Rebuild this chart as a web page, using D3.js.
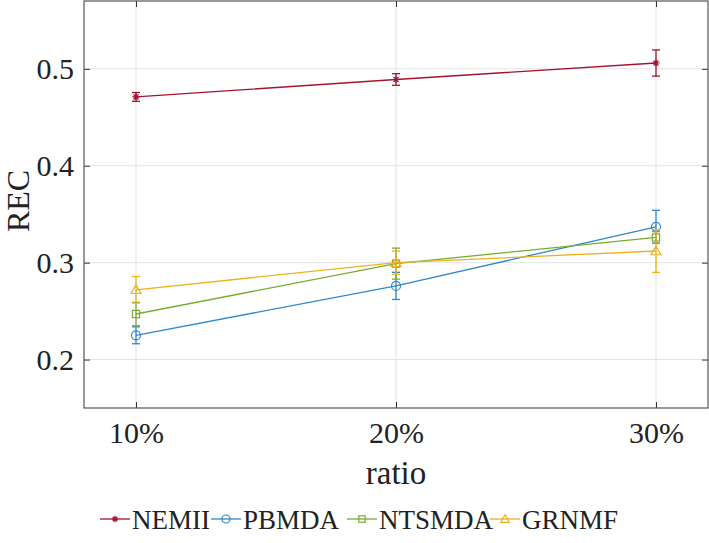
<!DOCTYPE html>
<html><head><meta charset="utf-8">
<script src="https://cdn.jsdelivr.net/npm/d3@7"></script>
<style>body{margin:0;background:#fff;} svg{display:block;} text{font-family:"Liberation Serif","Times New Roman",serif;}</style>
</head><body>
<svg id="chart" width="709" height="543"></svg>
<script>
const ratios = [10, 20, 30];
const xTickLabels = ["10%", "20%", "30%"];
const yTicks = [0.2, 0.3, 0.4, 0.5];
const seriesNames = ["NEMII", "PBMDA", "NTSMDA", "GRNMF"];
const seriesColors = ["#A2142F", "#2f88c9", "#77AC30", "#EDB120"];
const seriesMarkers = ["star", "circle", "square", "triangle"];
const valNEMII = [0.471, 0.489, 0.506];
const errNEMII = [0.0045, 0.006, 0.0135];
const valPBMDA = [0.225, 0.276, 0.337];
const errPBMDA = [0.0087, 0.014, 0.017];
const valNTSMDA = [0.247, 0.299, 0.326];
const errNTSMDA = [0.012, 0.016, 0.006];
const valGRNMF = [0.272, 0.300, 0.312];
const errGRNMF = [0.0137, 0.012, 0.022];

const values = [valNEMII, valPBMDA, valNTSMDA, valGRNMF];
const errors = [errNEMII, errPBMDA, errNTSMDA, errGRNMF];

const svg = d3.select("#chart");
const L = 84, R = 708, T = 1, B = 408;
const x = d3.scaleLinear().domain([8, 32]).range([L, R]);
const y = d3.scaleLinear().domain([0.15, 0.57]).range([B, T]);
const font = "Liberation Serif";

// grid
const g = svg.append("g");
g.selectAll(".vg").data(ratios).enter().append("line")
  .attr("x1", d => x(d)).attr("x2", d => x(d)).attr("y1", T).attr("y2", B)
  .attr("stroke", "#e3e3e3").attr("stroke-width", 1);
g.selectAll(".hg").data(yTicks).enter().append("line")
  .attr("x1", L).attr("x2", R).attr("y1", d => y(d)).attr("y2", d => y(d))
  .attr("stroke", "#e3e3e3").attr("stroke-width", 1);

// axes with inward ticks
const xAxis = d3.axisBottom(x).tickValues(ratios).tickFormat((d, i) => xTickLabels[i]).tickSize(-6).tickSizeOuter(0).tickPadding(14);
const yAxis = d3.axisLeft(y).tickValues(yTicks).tickFormat(d3.format(".1f")).tickSize(-6).tickSizeOuter(0).tickPadding(10);
const xa = svg.append("g").attr("transform", `translate(0,${B})`).call(xAxis);
const ya = svg.append("g").attr("transform", `translate(${L},0)`).call(yAxis);
const xt = svg.append("g").attr("transform", `translate(0,${T})`).call(d3.axisTop(x).tickValues(ratios).tickFormat("").tickSize(-6).tickSizeOuter(0));
const yr = svg.append("g").attr("transform", `translate(${R},0)`).call(d3.axisRight(y).tickValues(yTicks).tickFormat("").tickSize(-6).tickSizeOuter(0));
[xa, ya, xt, yr].forEach(a => {
  a.attr("font-family", font).attr("font-size", 30);
  a.select(".domain").remove();
  a.selectAll(".tick line").attr("stroke", "#333").attr("stroke-width", 1);
  a.selectAll("text").attr("fill", "#222");
});
svg.append("rect").attr("x", L).attr("y", T).attr("width", R - L).attr("height", B - T)
  .attr("fill", "none").attr("stroke", "#555").attr("stroke-width", 1.2);

// labels
svg.append("text").attr("x", (L + R) / 2).attr("y", 484).attr("text-anchor", "middle")
  .attr("font-family", font).attr("font-size", 33).attr("fill", "#222").text("ratio");
svg.append("text").attr("transform", `translate(29,201) rotate(-90)`).attr("text-anchor", "middle")
  .attr("font-family", font).attr("font-size", 32).attr("fill", "#222").text("REC");

function drawMarker(sel, type, color, cx, cy, s) {
  if (type === "circle") {
    sel.append("circle").attr("cx", cx).attr("cy", cy).attr("r", s).attr("fill", "none").attr("stroke", color).attr("stroke-width", 1.2);
  } else if (type === "square") {
    sel.append("rect").attr("x", cx - s * 0.8).attr("y", cy - s * 0.8).attr("width", s * 1.6).attr("height", s * 1.6).attr("fill", "none").attr("stroke", color).attr("stroke-width", 1.2);
  } else if (type === "triangle") {
    const h = s * 1.1;
    sel.append("path").attr("d", `M${cx},${cy - h}L${cx + h},${cy + h * 0.75}L${cx - h},${cy + h * 0.75}Z`).attr("fill", "none").attr("stroke", color).attr("stroke-width", 1.2);
  } else if (type === "star") {
    const r = s * 0.8;
    let d = "";
    for (let k = 0; k < 4; k++) {
      const a = k * Math.PI / 4;
      d += `M${cx - r * Math.cos(a)},${cy - r * Math.sin(a)}L${cx + r * Math.cos(a)},${cy + r * Math.sin(a)}`;
    }
    sel.append("path").attr("d", d).attr("stroke", color).attr("stroke-width", 1.2).attr("fill", "none");
  }
}

const line = d3.line().x((d, i) => x(ratios[i])).y(d => y(d));
const cap = 4;
seriesNames.forEach((name, si) => {
  const col = seriesColors[si];
  const sg = svg.append("g");
  sg.append("path").datum(values[si]).attr("d", line).attr("fill", "none").attr("stroke", col).attr("stroke-width", 1.3);
  values[si].forEach((v, i) => {
    const cx = x(ratios[i]), e = errors[si][i];
    const y1 = y(v + e), y2 = y(v - e);
    sg.append("line").attr("x1", cx).attr("x2", cx).attr("y1", y1).attr("y2", y2).attr("stroke", col).attr("stroke-width", 1.3);
    sg.append("line").attr("x1", cx - cap).attr("x2", cx + cap).attr("y1", y1).attr("y2", y1).attr("stroke", col).attr("stroke-width", 1.3);
    sg.append("line").attr("x1", cx - cap).attr("x2", cx + cap).attr("y1", y2).attr("y2", y2).attr("stroke", col).attr("stroke-width", 1.3);
    drawMarker(sg, seriesMarkers[si], col, cx, y(v), 4.5);
  });
});

// legend
const legendX = [100, 211, 347, 490];
const ly = 519;
seriesNames.forEach((name, si) => {
  const col = seriesColors[si];
  const lg = svg.append("g");
  const x0 = legendX[si];
  lg.append("line").attr("x1", x0).attr("x2", x0 + 30).attr("y1", ly).attr("y2", ly).attr("stroke", col).attr("stroke-width", 1.3);
  drawMarker(lg, seriesMarkers[si], col, x0 + 15, ly, 4);
  lg.append("text").attr("x", x0 + 32).attr("y", ly + 10).attr("font-family", font).attr("font-size", 27).attr("fill", "#222").text(name);
});
</script>
</body></html>
